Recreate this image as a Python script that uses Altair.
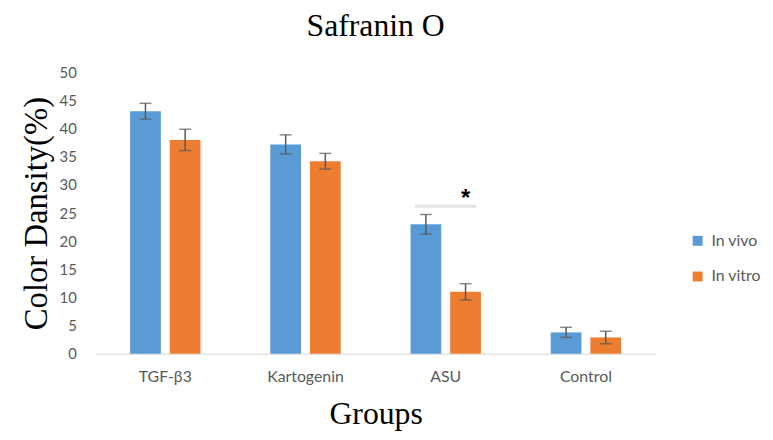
import altair as alt
import pandas as pd

groups = ["TGF-β3", "Kartogenin", "ASU", "Control"]
series = ["In vivo", "In vitro"]
in_vivo = [43.1, 37.2, 23.0, 3.8]
in_vivo_err = [1.4, 1.7, 1.75, 0.9]
in_vitro = [38.0, 34.2, 11.0, 2.9]
in_vitro_err = [1.9, 1.4, 1.45, 1.1]
y_ticks = [0, 5, 10, 15, 20, 25, 30, 35, 40, 45, 50]
colors = ["#5b9bd5", "#ed7d31"]

rows = []
for g, v, e in zip(groups, in_vivo, in_vivo_err):
    rows.append({"group": g, "series": "In vivo", "value": v, "lo": v - e, "hi": v + e})
for g, v, e in zip(groups, in_vitro, in_vitro_err):
    rows.append({"group": g, "series": "In vitro", "value": v, "lo": v - e, "hi": v + e})
df = pd.DataFrame(rows)

sig = pd.DataFrame([{"group": "ASU", "series": "In vitro", "line": 26.2, "star": 27.5, "label": "*"}])

x_axis = alt.Axis(title="Groups", labelAngle=0, ticks=False,
                  domainColor="#d9d9d9", domainWidth=1,
                  labelFont="Lato", labelFontSize=16, labelColor="#595959",
                  labelPadding=15,
                  titleFont="Liberation Serif", titleFontSize=32,
                  titleFontWeight="normal", titleColor="#000000",
                  titlePadding=14)
y_axis = alt.Axis(title="Color Dansity(%)", values=y_ticks,
                  grid=False, domain=False, ticks=False, labelOverlap=False,
                  labelFont="Lato", labelFontSize=15, labelColor="#595959",
                  labelPadding=19,
                  titleFont="Liberation Serif", titleFontSize=33,
                  titleFontWeight="normal", titleColor="#000000",
                  titlePadding=6)

x_scale = alt.Scale(paddingInner=0, paddingOuter=0)
y_scale = alt.Scale(domain=[0, 50])


def xe():
    return alt.X("group:N", sort=groups, scale=x_scale, axis=x_axis)


def xoe():
    return alt.XOffset("series:N", sort=series,
                       scale=alt.Scale(paddingInner=0.225, paddingOuter=0.88))


def ye(field):
    return alt.Y(field, type="quantitative", scale=y_scale, axis=y_axis)


bars = alt.Chart(df).mark_bar().encode(
    x=xe(),
    xOffset=xoe(),
    y=ye("value"),
    color=alt.Color("series:N", sort=series,
                    scale=alt.Scale(domain=series, range=colors),
                    legend=alt.Legend(title=None, orient="none", legendX=600, legendY=162,
                                      symbolType="square", symbolSize=100,
                                      symbolStrokeWidth=0,
                                      labelFont="Lato", labelFontSize=16,
                                      labelColor="#595959", labelOffset=6,
                                      rowPadding=20, padding=0)),
)

err = alt.Chart(df).mark_rule(color="#595959", strokeWidth=1.5).encode(
    x=xe(), xOffset=xoe(), y=ye("lo"), y2="hi:Q")
cap_lo = alt.Chart(df).mark_tick(color="#595959", thickness=1.5, size=12, orient="horizontal").encode(
    x=xe(), xOffset=xoe(), y=ye("lo"))
cap_hi = alt.Chart(df).mark_tick(color="#595959", thickness=1.5, size=12, orient="horizontal").encode(
    x=xe(), xOffset=xoe(), y=ye("hi"))

sig_line = alt.Chart(sig).mark_tick(color="#d9d9d9", thickness=3, size=62, orient="horizontal").encode(
    x=xe(), y=ye("line"))
sig_star = alt.Chart(sig).mark_text(font="Liberation Sans", fontSize=24, fontWeight="bold",
                                     color="#000000", baseline="middle").encode(
    x=xe(), xOffset=xoe(), y=ye("star"), text="label:N")

chart = alt.layer(bars, err, cap_lo, cap_hi, sig_line, sig_star).properties(
    width=566, height=284,
    title=alt.Title("Safranin O", font="Liberation Serif", fontSize=32,
                    fontWeight="normal", color="#000000",
                    offset=23, anchor="middle"),
    autosize=alt.AutoSizeParams(type="none"),
    padding={"left": 88, "top": 63, "right": 110, "bottom": 77},
).configure_view(stroke=None)

chart.save("out.html", embed_options={"renderer": "svg", "actions": False})
